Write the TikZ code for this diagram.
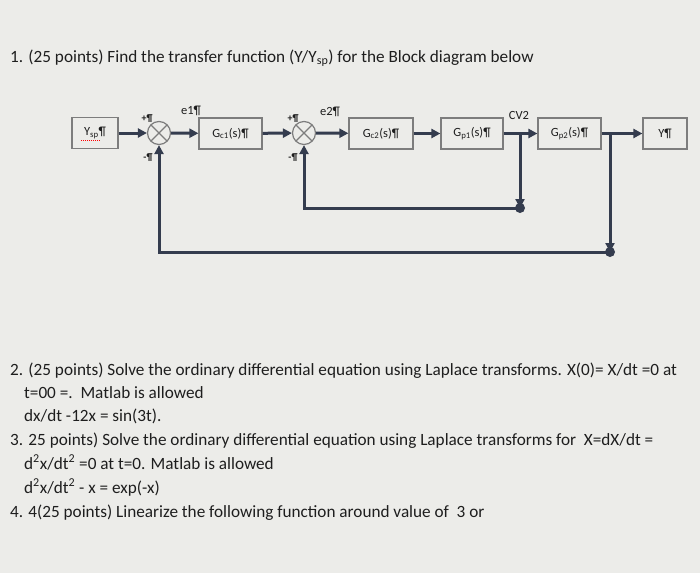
\documentclass[tikz,border=0pt]{standalone}
\usepackage{fontspec}
\setmainfont{Carlito}
\usetikzlibrary{arrows.meta}

\definecolor{paper}{RGB}{236,236,233}
\definecolor{wire}{RGB}{52,60,78}
\definecolor{boxline}{RGB}{125,125,125}
\definecolor{ink}{RGB}{30,30,30}

\tikzset{
  blk/.style={draw=boxline, line width=1.2pt, minimum height=31pt,
    inner sep=0pt, text=ink, font=\fontsize{12.5}{14}\selectfont},
  sumpt/.style={circle, draw=boxline, line width=1.2pt, minimum size=23pt,
    inner sep=0pt, path picture={
      \draw[boxline, line width=1.2pt]
        (path picture bounding box.north west) -- (path picture bounding box.south east)
        (path picture bounding box.north east) -- (path picture bounding box.south west);}},
  flow/.style={wire, line width=3pt, -{Triangle[length=9pt,width=9pt]}},
  sgn/.style={text=ink, font=\fontsize{10}{11}\selectfont\bfseries, inner sep=0pt},
  sig/.style={text=ink, font=\fontsize{12.5}{14}\selectfont, inner sep=0pt},
  qline/.style={anchor=base west, text=ink, inner sep=0pt,
    font=\fontsize{17.2}{20}\selectfont},
}

\begin{document}
\begin{tikzpicture}[x=1pt, y=-1pt]
    \useasboundingbox (0,0) rectangle (700,573);
    \fill[paper] (0,0) rectangle (700,573);

    %% Question 1
    \node[qline] (q1) at (10,62)
        {1. (25 points) Find the transfer function (Y/Y\textsubscript{sp}) for the Block diagram below};

    %% Blocks
    \node[blk, minimum width=46pt] (ysp) at (95,133) {Y\textsubscript{sp}¶};
    \node[sumpt] (sum1) at (159,133) {};
    \node[blk, minimum width=63pt] (gc1) at (230.5,133.5) {G\textsubscript{c1}(s)¶};
    \node[sumpt] (sum2) at (304,133) {};
    \node[blk, minimum width=64pt] (gc2) at (381,133.5) {G\textsubscript{c2}(s)¶};
    \node[blk, minimum width=62pt] (gp1) at (472,133.5) {G\textsubscript{p1}(s)¶};
    \node[blk, minimum width=63pt] (gp2) at (569.5,133.5) {G\textsubscript{p2}(s)¶};
    \node[blk, minimum width=44pt] (yout) at (665,133.5) {Y¶};
    \draw[red, densely dotted, line width=1pt]
        ([xshift=-14pt,yshift=-7pt]ysp.center) -- ++(19pt,0);

    %% Forward path
    \draw[flow] (ysp) -- (sum1);
    \draw[flow] (sum1) -- (gc1);
    \draw[flow] (gc1) -- (sum2);
    \draw[flow] (sum2) -- (gc2);
    \draw[flow] (gc2) -- (gp1);
    \draw[flow] (gp1) -- (gp2);
    \draw[flow] (gp2) -- (yout);

    %% Feedback loops
    \coordinate (b1) at (520,133.5);
    \coordinate (d1) at (520,208);
    \coordinate (b2) at (610,133.5);
    \coordinate (d2) at (610,252);
    \draw[flow] (b1) -- (d1);
    \draw[flow] (d1) -| (sum2);
    \fill[wire] (d1) circle (5pt);
    \draw[flow] (b2) -- (d2);
    \draw[flow] (d2) -| (sum1);
    \fill[wire] (d2) circle (5pt);

    %% Signal labels
    \node[sig] (e1) at (191,111) {e1¶};
    \node[sig] (e2) at (330,112) {e2¶};
    \node[sig] (cv2) at (519,115) {CV2};
    \node[sgn] (p1) at (147,119) {+¶};
    \node[sgn] (m1) at (148,158) {-¶};
    \node[sgn] (p2) at (293,119) {+¶};
    \node[sgn] (m2) at (293,158) {-¶};

    %% Questions 2-4
    \node[qline] (q2a) at (10,375)
        {2. (25 points) Solve the ordinary differential equation using Laplace transforms. X(0)= X/dt =0 at};
    \node[qline] (q2b) at (24,398) {t=00 =.\ \ Matlab is allowed};
    \node[qline] (q2c) at (24,421) {dx/dt -12x = sin(3t).};
    \node[qline] (q3a) at (10,445)
        {3. 25 points) Solve the ordinary differential equation using Laplace transforms for\ \ X=dX/dt =};
    \node[qline] (q3b) at (24,469) {d\textsuperscript{2}x/dt\textsuperscript{2} =0 at t=0. Matlab is allowed};
    \node[qline] (q3c) at (24,493) {d\textsuperscript{2}x/dt\textsuperscript{2} - x = exp(-x)};
    \node[qline] (q4) at (10,517)
        {4. 4(25 points) Linearize the following function around value of\ \ 3 or};
\end{tikzpicture}
\end{document}
